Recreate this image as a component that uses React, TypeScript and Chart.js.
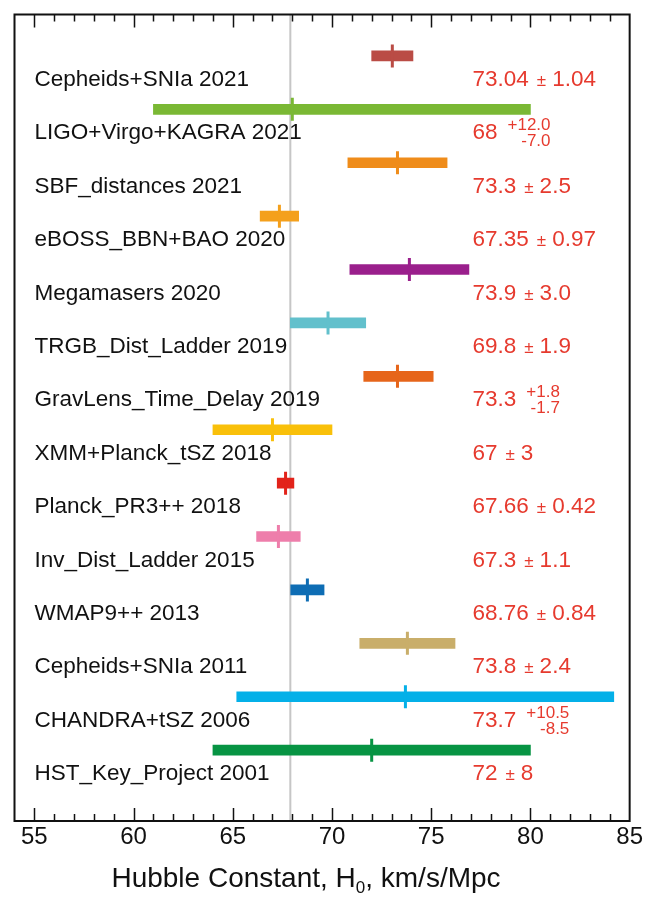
import React, { useEffect, useRef } from 'react';
import { Chart, registerables } from 'chart.js';

Chart.register(...registerables);

const FONT = '"Liberation Sans", Arial, Helvetica, sans-serif';

const LABELS = [
  'Cepheids+SNIa 2021',
  'LIGO+Virgo+KAGRA 2021',
  'SBF_distances 2021',
  'eBOSS_BBN+BAO 2020',
  'Megamasers 2020',
  'TRGB_Dist_Ladder 2019',
  'GravLens_Time_Delay 2019',
  'XMM+Planck_tSZ 2018',
  'Planck_PR3++ 2018',
  'Inv_Dist_Ladder 2015',
  'WMAP9++ 2013',
  'Cepheids+SNIa 2011',
  'CHANDRA+tSZ 2006',
  'HST_Key_Project 2001',
];
const H0 = [73.04, 68, 73.3, 67.35, 73.9, 69.8, 73.3, 67, 67.66, 67.3, 68.76, 73.8, 73.7, 72];
const ERR_PLUS = [1.04, 12.0, 2.5, 0.97, 3.0, 1.9, 1.8, 3, 0.42, 1.1, 0.84, 2.4, 10.5, 8];
const ERR_MINUS = [1.04, 7.0, 2.5, 0.97, 3.0, 1.9, 1.7, 3, 0.42, 1.1, 0.84, 2.4, 8.5, 8];
const VALUE_DECIMALS = [2, 0, 1, 2, 1, 1, 1, 0, 2, 1, 2, 1, 1, 0];
const ERR_DECIMALS = [2, 1, 1, 2, 1, 1, 1, 0, 2, 1, 2, 1, 1, 0];
const COLORS = [
  '#ba4c45',
  '#7ab834',
  '#ef8c1a',
  '#f4a01c',
  '#9a1f8c',
  '#62c0cc',
  '#e6651a',
  '#f9c00a',
  '#e2231a',
  '#ee7eab',
  '#0e6db4',
  '#c9ae6a',
  '#04b0e8',
  '#079443',
];
const X_TICKS = [55, 60, 65, 70, 75, 80, 85];
const X_MIN = 54;
const X_MAX = 85;
const Y_MIN = -0.776;
const Y_MAX = 14.327;
const REF_H0 = 67.9;
const AXIS_TITLE = ['Hubble Constant, H', '0', ', km/s/Mpc'];

const overlay = {
  id: 'overlay',
  beforeDatasetsDraw(chart: any) {
    const { ctx, chartArea: a, scales } = chart;
    const px = scales.x.getPixelForValue(REF_H0);
    ctx.save();
    ctx.strokeStyle = '#c6c6c6';
    ctx.lineWidth = 2;
    ctx.beginPath();
    ctx.moveTo(px, a.top);
    ctx.lineTo(px, a.bottom);
    ctx.stroke();
    ctx.restore();
  },
  afterDatasetsDraw(chart: any) {
    const { ctx, chartArea: a, scales } = chart;
    const x = scales.x;
    const y = scales.y;
    ctx.save();
    ctx.textBaseline = 'alphabetic';
    ctx.textAlign = 'left';
    const labelX = a.left + 20;
    const valX = a.left + 458;
    LABELS.forEach((lab, i) => {
      const base = y.getPixelForValue(i) + 30;
      ctx.fillStyle = '#111111';
      ctx.font = `22.5px ${FONT}`;
      ctx.fillText(lab, labelX, base);
      ctx.fillStyle = '#e63a2e';
      ctx.font = `22.5px ${FONT}`;
      const vTxt = H0[i].toFixed(VALUE_DECIMALS[i]);
      ctx.fillText(vTxt, valX, base);
      let cx = valX + ctx.measureText(vTxt).width;
      if (ERR_PLUS[i] === ERR_MINUS[i]) {
        cx += 8;
        ctx.font = `17px ${FONT}`;
        ctx.fillText('±', cx, base);
        cx += ctx.measureText('±').width + 6;
        ctx.font = `22.5px ${FONT}`;
        ctx.fillText(ERR_PLUS[i].toFixed(ERR_DECIMALS[i]), cx, base);
      } else {
        cx += 10;
        ctx.font = `17px ${FONT}`;
        const sup = '+' + ERR_PLUS[i].toFixed(ERR_DECIMALS[i]);
        const sub = '-' + ERR_MINUS[i].toFixed(ERR_DECIMALS[i]);
        const wSup = ctx.measureText(sup).width;
        const wSub = ctx.measureText(sub).width;
        const right = cx + Math.max(wSup, wSub);
        ctx.fillText(sup, right - wSup, base - 9);
        ctx.fillText(sub, right - wSub, base + 7);
      }
    });
    // frame
    ctx.strokeStyle = '#111111';
    ctx.lineWidth = 2;
    ctx.strokeRect(a.left, a.top, a.right - a.left, a.bottom - a.top);
    // inward ticks top & bottom
    ctx.lineWidth = 1.5;
    ctx.beginPath();
    for (let v = Math.ceil(X_MIN + 0.5); v < X_MAX; v++) {
      const px = Math.round(x.getPixelForValue(v)) + 0.5;
      const len = v % 5 === 0 ? 13 : 7;
      ctx.moveTo(px, a.bottom);
      ctx.lineTo(px, a.bottom - len);
      ctx.moveTo(px, a.top);
      ctx.lineTo(px, a.top + len);
    }
    ctx.stroke();
    // axis title with subscript
    ctx.fillStyle = '#111111';
    ctx.font = `28px ${FONT}`;
    const w1 = ctx.measureText(AXIS_TITLE[0]).width;
    const w3 = ctx.measureText(AXIS_TITLE[2]).width;
    ctx.font = `17px ${FONT}`;
    const w2 = ctx.measureText(AXIS_TITLE[1]).width;
    const total = w1 + w2 + w3;
    const tx = 306 - total / 2;
    const tb = 887;
    ctx.font = `28px ${FONT}`;
    ctx.fillText(AXIS_TITLE[0], tx, tb);
    ctx.font = `17px ${FONT}`;
    ctx.fillText(AXIS_TITLE[1], tx + w1, tb + 6);
    ctx.font = `28px ${FONT}`;
    ctx.fillText(AXIS_TITLE[2], tx + w1 + w2, tb);
    ctx.restore();
  },
};

export default function App() {
  const ref = useRef<HTMLCanvasElement | null>(null);
  useEffect(() => {
    document.body.style.margin = '0';
    const canvas = ref.current;
    if (!canvas) return;
    const chart = new Chart(canvas, {
      type: 'bar',
      data: {
        datasets: [
          {
            type: 'bar',
            indexAxis: 'y',
            data: H0.map((v, i) => ({ x: [v - ERR_MINUS[i], v + ERR_PLUS[i]], y: i })),
            backgroundColor: COLORS,
            borderWidth: 0,
            barThickness: 10,
            xAxisID: 'x',
            yAxisID: 'y',
            order: 2,
          } as any,
          {
            type: 'scatter',
            data: H0.map((v, i) => ({ x: v, y: i })),
            showLine: false,
            pointStyle: 'line',
            pointRotation: 90,
            pointRadius: 11.5,
            pointBorderWidth: 3,
            pointBorderColor: COLORS,
            pointBackgroundColor: COLORS,
            xAxisID: 'x',
            yAxisID: 'y',
            order: 1,
          } as any,
        ],
      },
      options: {
        responsive: false,
        animation: false,
        devicePixelRatio: 1,
        layout: { padding: { left: 13, right: 15, top: 13, bottom: 0 } },
        plugins: { legend: { display: false }, tooltip: { enabled: false } },
        scales: {
          x: {
            type: 'linear',
            offset: false,
            min: X_MIN,
            max: X_MAX,
            grid: { display: false, drawTicks: false, offset: false },
            border: { display: false },
            ticks: {
              font: { family: FONT, size: 24 },
              color: '#111111',
              padding: 2,
              includeBounds: false,
            },
            afterBuildTicks: (ax: any) => {
              ax.ticks = X_TICKS.map((v) => ({ value: v }));
            },
            afterFit: (ax: any) => {
              ax.height = 76;
            },
          },
          y: {
            type: 'linear',
            offset: false,
            reverse: true,
            min: Y_MIN,
            max: Y_MAX,
            display: false,
            grid: { offset: false },
          },
        },
      } as any,
      plugins: [overlay],
    });
    return () => chart.destroy();
  }, []);
  return (
    <canvas ref={ref} width={645} height={897} style={{ display: 'block' }} />
  );
}
